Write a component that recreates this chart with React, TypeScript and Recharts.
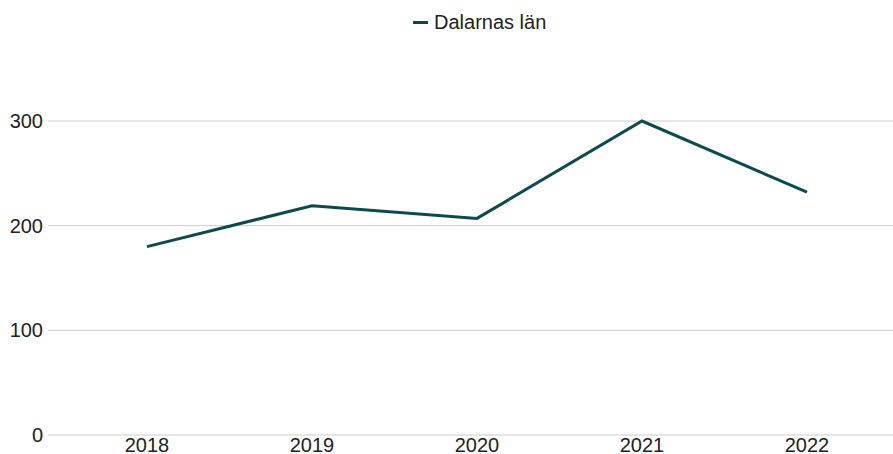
import { LineChart, Line, XAxis, YAxis, CartesianGrid, Legend } from 'recharts';

const years = ['2018', '2019', '2020', '2021', '2022'];
const dalarnas = [180, 219, 207, 300, 232];
const yTicks = [0, 100, 200, 300];

const seriesName = 'Dalarnas län';
const lineColor = '#0b4a51';

const data = years.map((year, i) => ({ year, value: dalarnas[i] }));

// Legend kept at a fixed height so the plot area lines up with the reference
const LegendContent = () => (
  <div style={{ height: 30, display: 'flex', alignItems: 'center', paddingLeft: 413 }}>
    <span style={{ display: 'inline-block', width: 15, height: 3, background: lineColor, marginRight: 6 }} />
    <span style={{ fontSize: 20, color: '#222222', lineHeight: '20px' }}>{seriesName}</span>
  </div>
);

const App = () => {
  return (
    <div style={{ position: 'absolute', left: 0, top: 0, fontFamily: '"Liberation Sans", Arial, sans-serif' }}>
      <LineChart width={893} height={454} data={data} margin={{ top: 0, right: 0, bottom: 0, left: 0 }}>
        <CartesianGrid stroke="#cccccc" vertical={false} horizontalValues={yTicks} />
        <XAxis
          dataKey="year"
          axisLine={false}
          tickLine={false}
          tickSize={2}
          tickMargin={1}
          height={19}
          padding={{ left: 99, right: 86 }}
          tick={{ fontSize: 20, fill: '#222222' }}
        />
        <YAxis
          domain={[0, 387]}
          ticks={yTicks}
          axisLine={false}
          tickLine={false}
          tickSize={3}
          tickMargin={2}
          width={48}
          tick={{ fontSize: 20, fill: '#222222' }}
        />
        <Legend
          verticalAlign="top"
          align="left"
          wrapperStyle={{ top: 7, left: 0, width: 893 }}
          content={() => <LegendContent />}
        />
        <Line
          type="linear"
          dataKey="value"
          name={seriesName}
          stroke={lineColor}
          strokeWidth={3}
          dot={false}
          isAnimationActive={false}
        />
      </LineChart>
    </div>
  );
};

export default App;
